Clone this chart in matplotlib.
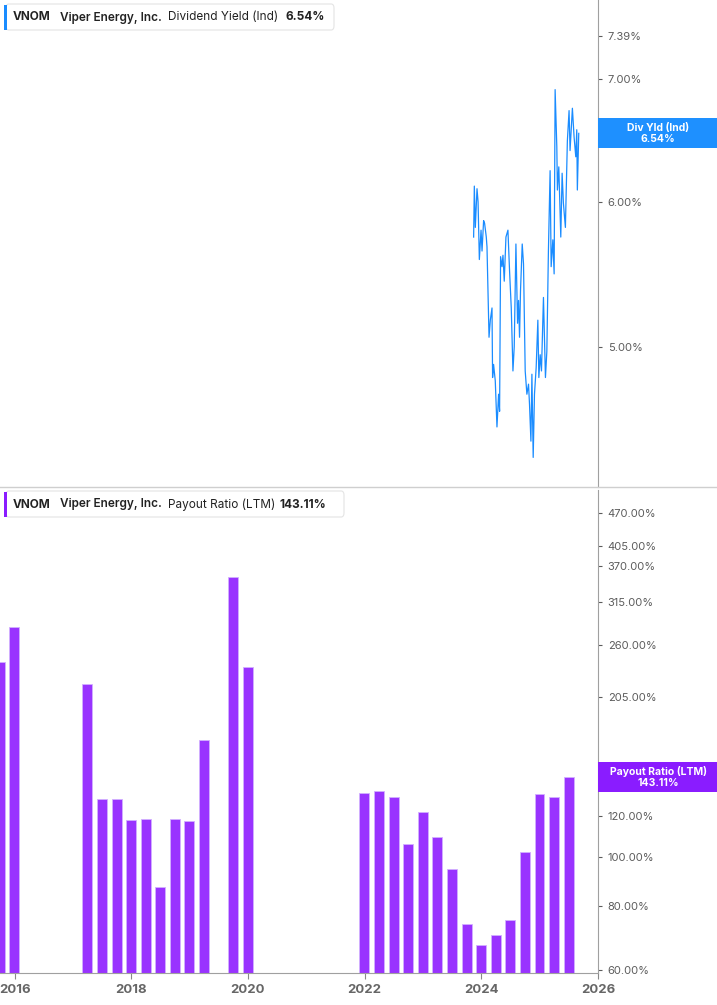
import matplotlib.pyplot as plt
from matplotlib.lines import Line2D
from matplotlib.patches import FancyBboxPatch, Rectangle
from matplotlib.ticker import FixedLocator, NullLocator

plt.rcParams['font.family'] = ['Inter', 'DejaVu Sans']

# Dividend Yield (Ind), in %, x as decimal years
yield_dates = [
    2023.868, 2023.880, 2023.897, 2023.926, 2023.944, 2023.966, 2023.995, 2024.012,
    2024.039, 2024.056, 2024.085, 2024.097, 2024.132, 2024.154, 2024.183, 2024.193,
    2024.210, 2024.239, 2024.268, 2024.296, 2024.313, 2024.330, 2024.354, 2024.371,
    2024.393, 2024.422, 2024.456, 2024.484, 2024.513, 2024.542, 2024.564, 2024.593,
    2024.621, 2024.638, 2024.655, 2024.672, 2024.701, 2024.723, 2024.752, 2024.781,
    2024.809, 2024.826, 2024.850, 2024.867, 2024.889, 2024.911, 2024.940, 2024.969,
    2024.986, 2025.009, 2025.031, 2025.065, 2025.099, 2025.123, 2025.150, 2025.179,
    2025.197, 2025.226, 2025.248, 2025.265, 2025.294, 2025.304, 2025.328, 2025.362,
    2025.385, 2025.407, 2025.441, 2025.475, 2025.504, 2025.521, 2025.561, 2025.590,
    2025.619, 2025.636, 2025.646, 2025.670,
]
yield_values = [
    5.74, 6.12, 5.81, 6.10, 6.00, 5.58, 5.79, 5.64,
    5.86, 5.84, 5.74, 5.67, 5.06, 5.17, 5.25, 4.81,
    4.89, 4.79, 4.52, 4.71, 4.61, 5.60, 5.53, 5.61,
    5.43, 5.74, 5.79, 5.50, 5.25, 4.85, 5.00, 5.69,
    5.15, 5.30, 5.06, 5.37, 5.69, 5.55, 4.85, 4.71,
    4.77, 4.65, 4.44, 4.83, 4.35, 4.71, 4.87, 5.17,
    4.81, 4.95, 4.85, 5.32, 4.81, 4.97, 5.64, 6.24,
    5.53, 5.72, 5.48, 6.91, 6.43, 6.09, 6.27, 5.74,
    6.22, 5.99, 5.81, 6.48, 6.73, 6.40, 6.75, 6.51,
    6.35, 6.57, 6.09, 6.54,
]

# Payout Ratio (LTM), in %, by quarter
payout_quarters = [
    '2015Q3', '2015Q4',
    '2017Q1', '2017Q2', '2017Q3', '2017Q4',
    '2018Q1', '2018Q2', '2018Q3', '2018Q4',
    '2019Q1', '2019Q3', '2019Q4',
    '2021Q4', '2022Q1', '2022Q2', '2022Q3', '2022Q4',
    '2023Q1', '2023Q2', '2023Q3', '2023Q4',
    '2024Q1', '2024Q2', '2024Q3', '2024Q4',
    '2025Q1', '2025Q2',
]
payout_values = [
    240.6, 282.0,
    218.0, 129.7, 129.7, 117.9,
    118.6, 87.2, 118.3, 117.2,
    169.4, 352.0, 235.5,
    133.0, 134.4, 130.8, 105.9, 122.2,
    109.2, 94.7, 73.9, 67.2,
    70.2, 75.2, 102.2, 132.6,
    131.0, 143.11,
]

yield_ticks = [5.00, 6.00, 7.00, 7.39]
payout_ticks = [60, 80, 100, 120, 140, 150, 205, 260, 315, 370, 405, 470]
year_ticks = list(range(2016, 2027, 2))

quarter_end = {'1': 0.247, '2': 0.496, '3': 0.748, '4': 0.997}
payout_x = [int(q[:4]) + quarter_end[q[-1]] for q in payout_quarters]

W, H = 717, 1005
BLUE = '#1a8cff'
PURPLE = '#9933ff'
PURPLE_DARK = '#8a1cff'
GREY = '#5c5c5c'


def fx(px):
    return px / W


def fy(py):
    return 1 - py / H


fig = plt.figure(figsize=(W / 100, H / 100), dpi=100)
ax1 = fig.add_axes([0, fy(487), fx(598), 487 / H])
ax2 = fig.add_axes([0, fy(973), fx(598), (973 - 490) / H])

xlim = (2015.749, 2026.0)

# top panel: dividend yield
ax1.plot(yield_dates, yield_values, color=BLUE, lw=0.9)
ax1.set_yscale('log')
ax1.set_ylim(4.191, 7.735)
ax1.set_xlim(*xlim)
ax1.set_xticks([])

# bottom panel: payout ratio bars
ax2.set_yscale('log')
y_lo, y_hi = 59.19, 521.9
ax2.bar(payout_x, [v - y_lo for v in payout_values], bottom=y_lo, width=0.171,
        color=PURPLE, edgecolor='#d2b0ff', linewidth=0.6)
ax2.set_ylim(y_lo, y_hi)
ax2.set_xlim(*xlim)
ax2.set_xticks(year_ticks)
ax2.set_xticklabels([str(y) for y in year_ticks], fontsize=9.5, fontweight='bold', color='#666666')
ax2.tick_params(axis='x', length=4, width=0.8, color='#888888', pad=4)

for ax, ticks in [(ax1, yield_ticks), (ax2, payout_ticks)]:
    ax.yaxis.tick_right()
    ax.yaxis.set_major_locator(FixedLocator(ticks))
    ax.yaxis.set_minor_locator(NullLocator())
    ax.set_yticklabels(['{:.2f}%'.format(t) for t in ticks])
    ax.tick_params(axis='y', length=3, width=0.8, color=GREY, labelsize=8, labelcolor=GREY, pad=4)
    for s in ['top', 'left']:
        ax.spines[s].set_visible(False)
    ax.spines['right'].set_color('#a0a0a0')
    ax.set_facecolor('none')
ax1.spines['bottom'].set_visible(False)
ax2.spines['bottom'].set_color('#a0a0a0')

# divider between panels
fig.add_artist(Line2D([0, 1], [fy(487.5), fy(487.5)], color='#cfcfcf', lw=1.0))


def legend_box(top, right, accent, parts):
    box = FancyBboxPatch((fx(6), fy(top + 26)), fx(right - 6), 26 / H,
                         boxstyle='round,pad=0,rounding_size=0.004',
                         facecolor='white', edgecolor='#e4e4e4', lw=0.8,
                         transform=fig.transFigure)
    fig.add_artist(box)
    fig.add_artist(Rectangle((fx(4), fy(top + 26)), fx(3), 25 / H,
                             facecolor=accent, edgecolor='none', transform=fig.transFigure))
    for x, txt, weight in parts:
        fig.text(fx(x), fy(top + 13.5), txt, fontsize=8.5, fontweight=weight,
                 color='#222222', va='center', ha='left')


legend_box(4, 334, BLUE, [(13, 'VNOM', 'bold'), (60, 'Viper Energy, Inc.', 'semibold'),
                          (168, 'Dividend Yield (Ind)', 'normal'),
                          (286, '{:.2f}%'.format(yield_values[-1]), 'bold')])
legend_box(491, 344, PURPLE_DARK, [(13, 'VNOM', 'bold'), (60, 'Viper Energy, Inc.', 'semibold'),
                                   (168, 'Payout Ratio (LTM)', 'normal'),
                                   (280, '{:.2f}%'.format(payout_values[-1]), 'bold')])


def value_tag(ax, value, color, name):
    ypix = ax.transData.transform((xlim[0], value))[1]
    yc = ypix / H
    fig.add_artist(Rectangle((fx(598), yc - 15 / H), fx(W - 598), 30 / H,
                             facecolor=color, edgecolor='none', transform=fig.transFigure))
    fig.text(fx(658), yc + 5.5 / H, name, fontsize=7.5, fontweight='bold',
             color='white', ha='center', va='center')
    fig.text(fx(658), yc - 5.5 / H, '{:.2f}%'.format(value), fontsize=7.5, fontweight='bold',
             color='white', ha='center', va='center')


value_tag(ax1, yield_values[-1], '#1e90ff', 'Div Yld (Ind)')
value_tag(ax2, payout_values[-1], PURPLE_DARK, 'Payout Ratio (LTM)')

fig.savefig('out.png', dpi=100)
